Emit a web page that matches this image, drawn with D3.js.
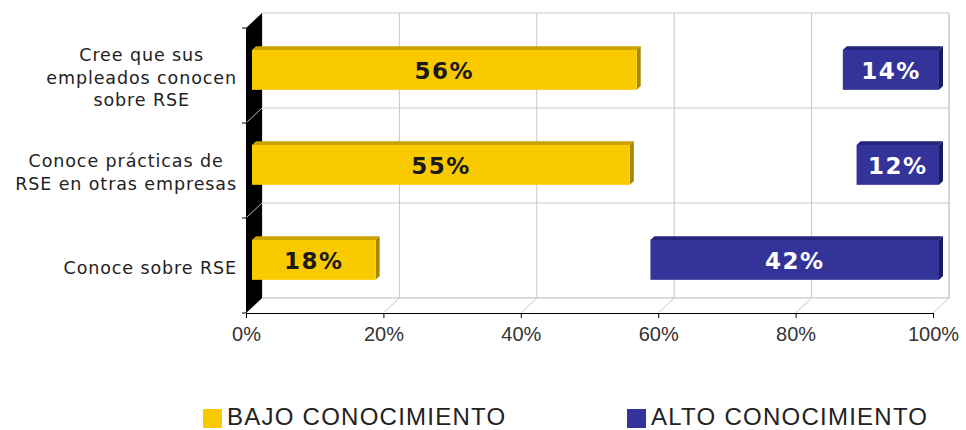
<!DOCTYPE html>
<html>
<head>
<meta charset="utf-8">
<script src="https://cdn.jsdelivr.net/npm/d3@7/dist/d3.min.js"></script>
<style>
  html, body { margin: 0; padding: 0; background: #fff; }
  svg { display: block; }
</style>
</head>
<body>
<svg id="chart" width="966" height="430"></svg>
<script>
// Survey categories (line breaks mark label wrapping)
const categories = [
  "Cree que sus\nempleados conocen\nsobre RSE",
  "Conoce prácticas de\nRSE en otras empresas",
  "Conoce sobre RSE"
];
// Share of respondents per category (%)
const bajoValues = [56, 55, 18];
const altoValues = [14, 12, 42];
const tickValues = [0, 20, 40, 60, 80, 100];
const seriesNames = ["BAJO CONOCIMIENTO", "ALTO CONOCIMIENTO"];

const svg = d3.select("#chart");

// Front plane of the 3D box and its depth offset
const x = d3.scaleLinear().domain([0, 100]).range([246, 933]);
const y = d3.scaleBand().domain(categories).range([28, 313]).paddingInner(0).paddingOuter(0);
const DX = 16, DY = -15;
const yTop = y.range()[0], yBot = y.range()[1];
const P = (px, py, f) => [px + DX * f, py + DY * f];
const poly = pts => "M" + pts.map(p => p.join(",")).join("L") + "Z";

const grid = "#c8c8c8";

// Back wall
svg.append("path")
  .attr("d", poly([P(x(0), yTop, 1), P(x(100), yTop, 1), P(x(100), yBot, 1), P(x(0), yBot, 1)]))
  .attr("fill", "#fff").attr("stroke", grid).attr("stroke-width", 1);

// Floor
svg.append("path")
  .attr("d", poly([P(x(0), yBot, 0), P(x(100), yBot, 0), P(x(100), yBot, 1), P(x(0), yBot, 1)]))
  .attr("fill", "#fff").attr("stroke", "none");
svg.append("line")
  .attr("x1", P(x(0), yBot, 1)[0]).attr("y1", P(x(0), yBot, 1)[1])
  .attr("x2", P(x(100), yBot, 1)[0]).attr("y2", P(x(100), yBot, 1)[1])
  .attr("stroke", grid);

// Vertical gridlines on the back wall and their floor diagonals
tickValues.forEach(v => {
  const a = P(x(v), yTop, 1), b = P(x(v), yBot, 1), c = P(x(v), yBot, 0);
  if (v > 0) {
    svg.append("line").attr("x1", a[0]).attr("y1", a[1]).attr("x2", b[0]).attr("y2", b[1])
      .attr("stroke", grid);
  }
  svg.append("line").attr("x1", b[0]).attr("y1", b[1]).attr("x2", c[0]).attr("y2", c[1])
    .attr("stroke", grid);
});

// Horizontal category dividers on the back wall
categories.slice(1).forEach(c => {
  const a = P(x(0), y(c), 1), b = P(x(100), y(c), 1);
  svg.append("line").attr("x1", a[0]).attr("y1", a[1]).attr("x2", b[0]).attr("y2", b[1])
    .attr("stroke", grid);
});

// Left side wall (black)
svg.append("path")
  .attr("d", poly([P(x(0), yTop, 0), P(x(0), yTop, 1), P(x(0), yBot, 1), P(x(0), yBot, 0)]))
  .attr("fill", "#000");
categories.slice(1).forEach(c => {
  const a = P(x(0), y(c), 0), b = P(x(0), y(c), 1);
  svg.append("line").attr("x1", a[0]).attr("y1", a[1]).attr("x2", b[0]).attr("y2", b[1])
    .attr("stroke", "#bbb").attr("stroke-width", 1);
});

// Axes
const xAxis = svg.append("g")
  .attr("transform", `translate(0,${yBot})`)
  .call(d3.axisBottom(x).tickValues(tickValues).tickFormat(d => d + "%").tickSizeInner(5).tickSizeOuter(0));
xAxis.select(".domain").attr("stroke", "#000");
xAxis.selectAll(".tick line").attr("stroke", "#000");
xAxis.selectAll(".tick text")
  .attr("font-family", "'Liberation Sans', Arial, sans-serif")
  .attr("font-size", 20).attr("fill", "#333").attr("dy", null).attr("y", 28);

const yAxis = svg.append("g")
  .attr("transform", `translate(${x(0)},0)`)
  .call(d3.axisLeft(y).tickValues([]).tickSizeOuter(0));
yAxis.select(".domain").attr("stroke", "#000");
[yTop, ...categories.slice(1).map(c => y(c)), yBot].forEach(v => {
  yAxis.append("line").attr("x1", -4).attr("x2", 0).attr("y1", v).attr("y2", v).attr("stroke", "#000");
});

// Category labels: lines centred within a right-aligned block
const labelFont = "'DejaVu Sans', Verdana, sans-serif";
categories.forEach(c => {
  const lines = c.split("\n");
  const lh = 22.5;
  const cy = y(c) + y.bandwidth() / 2 + 2;
  const g = svg.append("g");
  const texts = lines.map((ln, i) => g.append("text")
    .attr("font-family", labelFont).attr("font-size", 17.5)
    .attr("letter-spacing", 0.9).attr("fill", "#222")
    .attr("text-anchor", "middle")
    .attr("y", cy + (i - (lines.length - 1) / 2) * lh + 6)
    .text(ln));
  const maxW = d3.max(texts, t => t.node().getComputedTextLength());
  texts.forEach(t => t.attr("x", 237 - maxW / 2));
});

// 3D bars
const F0 = 0.375, DEPTH = 0.25, BAR = 0.42;
function bar(c, v0, v1, cols, label, labelColor) {
  const h = y.bandwidth() * BAR;
  const yc = y(c) + y.bandwidth() / 2;
  const [xl, yt] = P(x(v0), yc - h / 2, F0);
  const [xr, yb] = P(x(v1), yc + h / 2, F0);
  const ddx = DX * DEPTH, ddy = DY * DEPTH;
  svg.append("path").attr("d", poly([[xl, yt], [xr, yt], [xr + ddx, yt + ddy], [xl + ddx, yt + ddy]]))
    .attr("fill", cols.top);
  svg.append("path").attr("d", poly([[xr, yt], [xr + ddx, yt + ddy], [xr + ddx, yb + ddy], [xr, yb]]))
    .attr("fill", cols.side);
  svg.append("rect").attr("x", xl).attr("y", yt).attr("width", xr - xl).attr("height", yb - yt)
    .attr("fill", cols.front);
  svg.append("text")
    .attr("x", (xl + xr) / 2).attr("y", (yt + yb) / 2 + 9)
    .attr("text-anchor", "middle")
    .attr("font-family", "'DejaVu Sans', Verdana, sans-serif")
    .attr("font-weight", "bold").attr("font-size", 23).attr("letter-spacing", 1.5)
    .attr("fill", labelColor)
    .text(label + "%");
}
const yellow = { front: "#FACA00", top: "#C9A200", side: "#A98700" };
const blue = { front: "#333399", top: "#25257A", side: "#1B1B5C" };
categories.forEach((c, i) => {
  bar(c, 0, bajoValues[i], yellow, bajoValues[i], "#1a1a1a");
  bar(c, 100 - altoValues[i], 100, blue, altoValues[i], "#fff");
});

// Legend
const legend = [
  { name: seriesNames[0], color: yellow.front, x: 203 },
  { name: seriesNames[1], color: blue.front, x: 627 }
];
legend.forEach(l => {
  svg.append("rect").attr("x", l.x).attr("y", 409).attr("width", 19).attr("height", 19).attr("fill", l.color);
  svg.append("text").attr("x", l.x + 24).attr("y", 425)
    .attr("font-family", "'Liberation Sans', Arial, sans-serif")
    .attr("font-size", 24).attr("fill", "#222").attr("letter-spacing", 1.25)
    .text(l.name);
});
</script>
</body>
</html>
